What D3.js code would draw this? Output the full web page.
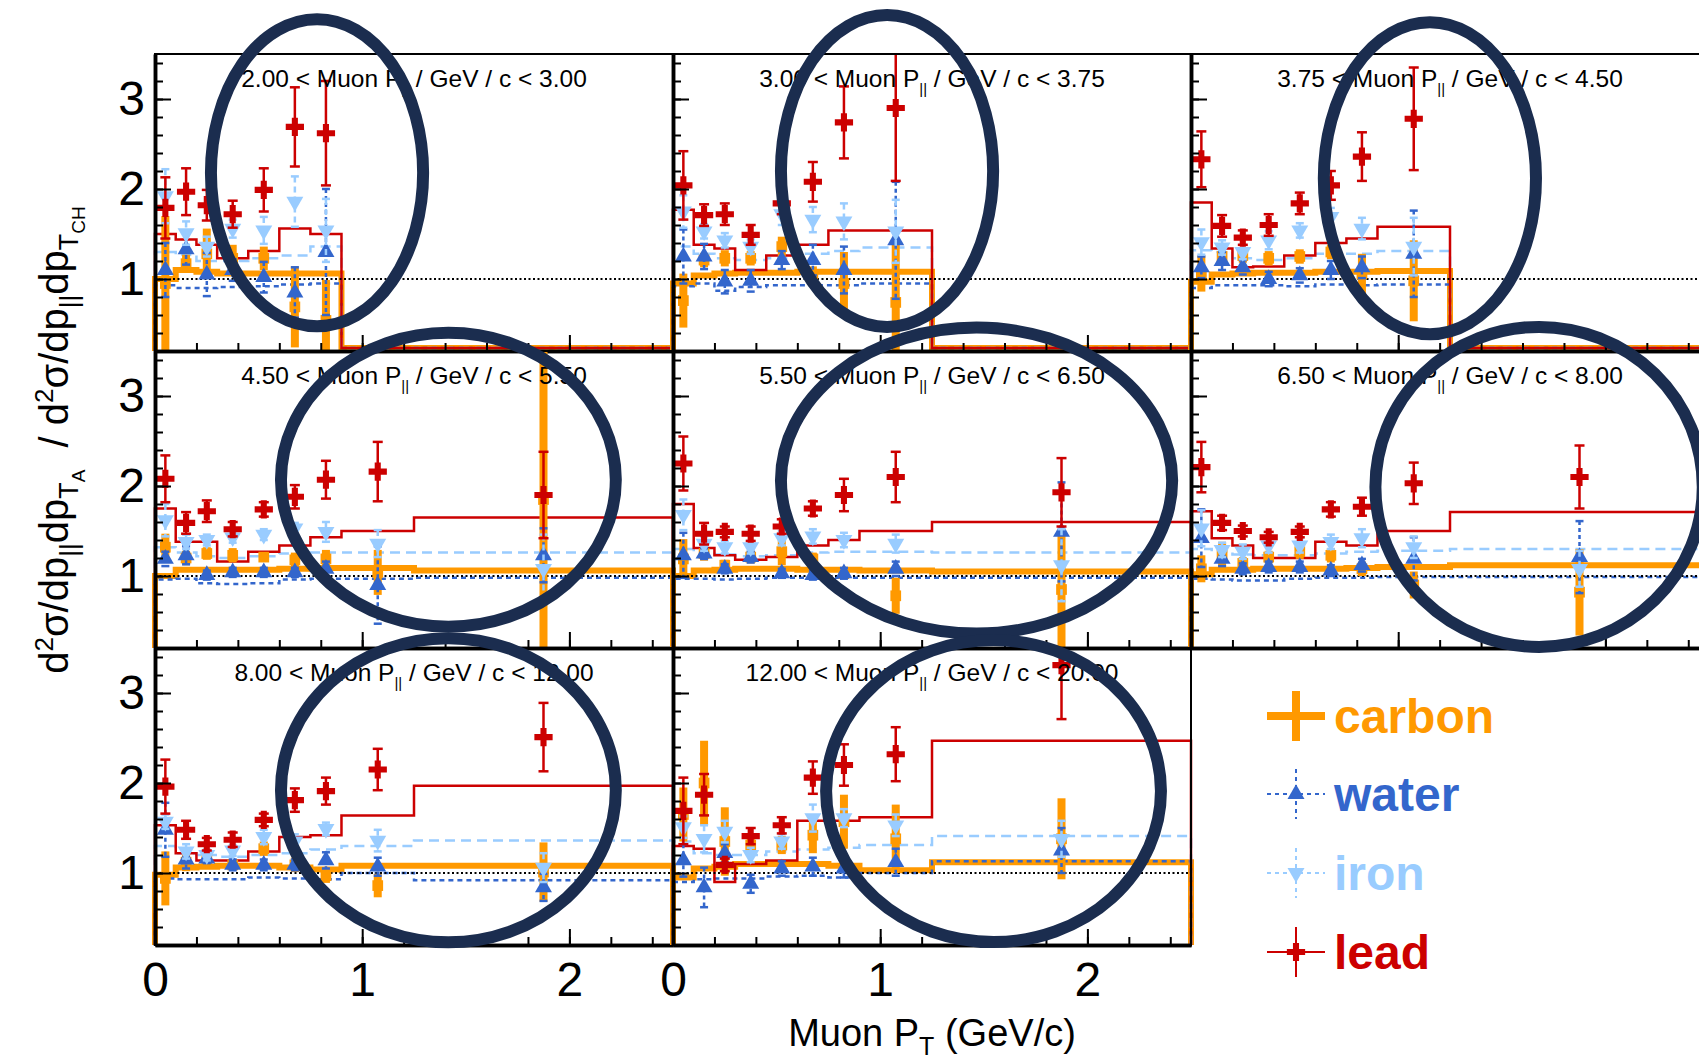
<!DOCTYPE html>
<html>
<head>
<meta charset="utf-8">
<style>
body { margin: 0; background: #fff; }
text { font-family: "Liberation Sans", Arial, Helvetica, sans-serif; }
</style>
</head>
<body>
<svg width="1699" height="1059"></svg>
<script src="https://d3js.org/d3.v7.min.js"></script>
<script>
// muon p|| slices (GeV/c) and muon pT bin edges (GeV/c)
var pBins = ["2.00", "3.00", "3.75", "4.50", "5.50", "6.50", "8.00", "12.00", "20.00"];
var ptEdges = [0, 0.1, 0.2, 0.3, 0.45, 0.6, 0.75, 0.9, 1.25, 2.5];

// data points, one row per p|| slice
var carbonVal = [
  [0.95, 1.17, 1.28, 1.23, 1.23, 0.69, 0.54],
  [0.76, 1.21, 1.23, 1.23, 1.36, 1.04, 0.95, 0.74],
  [1.06, 1.25, 1.26, 1.23, 1.25, 1.30, 1.06, 0.98],
  [1.32, 1.20, 1.25, 1.23, 1.21, 1.18, 1.19, 1.04, 1.85],
  [1.19, 1.25, 1.12, 1.21, 1.27, 1.19, 1.03, 0.78, 0.85],
  [1.08, 1.23, 1.14, 1.21, 1.27, 1.23, 1.08, 0.90, 0.82],
  [0.94, 1.12, 1.15, 1.09, 1.27, 1.09, 0.97, 0.86, 1.01],
  [1.65, 2.00, 1.35, 1.31, 1.31, 1.42, 1.57, 1.38, 1.38]
];
var carbonErr = [
  [0.75, 0.10, 0.28, 0.15, 0.13, 0.45, 0.45],
  [0.30, 0.08, 0.09, 0.08, 0.11, 0.10, 0.35, 0.70],
  [0.20, 0.06, 0.08, 0.08, 0.08, 0.08, 0.22, 0.45],
  [0.15, 0.08, 0.07, 0.08, 0.05, 0.08, 0.10, 0.25, 1.80],
  [0.22, 0.08, 0.06, 0.07, 0.15, 0.07, 0.06, 0.20, 0.65],
  [0.15, 0.15, 0.07, 0.07, 0.08, 0.08, 0.08, 0.15, 0.48],
  [0.30, 0.10, 0.07, 0.06, 0.08, 0.08, 0.08, 0.13, 0.33],
  [0.30, 0.47, 0.38, 0.10, 0.10, 0.20, 0.30, 0.38, 0.45]
];
var waterVal = [
  [1.10, 1.33, 1.05, 1.10, 1.02, 0.85, 1.30],
  [1.25, 1.25, 0.97, 0.98, 1.21, 1.21, 1.10, 1.43],
  [1.13, 1.20, 1.13, 1.00, 1.04, 1.10, 1.13, 1.28],
  [1.19, 1.23, 1.01, 1.04, 1.04, 1.04, 1.08, 0.90, 1.23],
  [1.23, 1.25, 1.08, 1.21, 1.03, 1.01, 1.03, 1.08, 1.49],
  [1.42, 1.19, 1.08, 1.10, 1.10, 1.06, 1.12, 1.19, 1.21],
  [1.48, 1.15, 1.16, 1.09, 1.09, 1.09, 1.14, 1.07, 0.84],
  [1.14, 0.84, 1.22, 0.88, 1.05, 1.07, 1.05, 1.12, 1.25]
];
var waterErr = [
  [0.30, 0.17, 0.24, 0.12, 0.17, 0.28, 0.70],
  [0.30, 0.14, 0.13, 0.12, 0.10, 0.17, 0.26, 0.65],
  [0.12, 0.10, 0.08, 0.08, 0.08, 0.10, 0.12, 0.48],
  [0.08, 0.10, 0.05, 0.05, 0.05, 0.05, 0.08, 0.43, 0.30],
  [0.25, 0.06, 0.05, 0.06, 0.05, 0.05, 0.06, 0.08, 0.55],
  [0.32, 0.08, 0.06, 0.06, 0.06, 0.06, 0.07, 0.24, 0.40],
  [0.30, 0.10, 0.05, 0.06, 0.06, 0.06, 0.09, 0.10, 0.15],
  [0.18, 0.22, 0.10, 0.10, 0.08, 0.10, 0.10, 0.15, 0.25]
];
var ironVal = [
  [1.92, 1.51, 1.36, 1.56, 1.54, 1.86, 1.54],
  [1.75, 1.53, 1.43, 1.36, 1.72, 1.66, 1.64, 1.53],
  [1.41, 1.35, 1.30, 1.43, 1.54, 1.69, 1.56, 1.36],
  [1.62, 1.38, 1.40, 1.43, 1.46, 1.53, 1.49, 1.36, 1.08],
  [1.68, 1.36, 1.32, 1.32, 1.42, 1.44, 1.40, 1.36, 1.12],
  [1.53, 1.29, 1.27, 1.34, 1.34, 1.38, 1.42, 1.32, 1.08],
  [1.57, 1.24, 1.20, 1.25, 1.40, 1.35, 1.49, 1.36, 1.06],
  [1.51, 1.38, 1.46, 1.20, 1.35, 1.61, 1.61, 1.53, 1.38]
];
var ironErr = [
  [0.30, 0.13, 0.11, 0.10, 0.15, 0.28, 0.35],
  [0.18, 0.08, 0.08, 0.08, 0.12, 0.14, 0.20, 0.35],
  [0.14, 0.08, 0.08, 0.10, 0.08, 0.10, 0.12, 0.32],
  [0.18, 0.08, 0.06, 0.06, 0.06, 0.06, 0.11, 0.15, 0.38],
  [0.17, 0.08, 0.07, 0.07, 0.08, 0.08, 0.08, 0.10, 0.40],
  [0.20, 0.08, 0.08, 0.08, 0.08, 0.08, 0.10, 0.12, 0.20],
  [0.08, 0.08, 0.06, 0.06, 0.08, 0.08, 0.07, 0.12, 0.16],
  [0.12, 0.15, 0.12, 0.08, 0.08, 0.15, 0.10, 0.12, 0.20]
];
var leadVal = [
  [1.79, 1.97, 1.82, 1.72, 1.99, 2.69, 2.62],
  [2.04, 1.71, 1.72, 1.49, 1.84, 2.08, 2.74, 2.90],
  [2.33, 1.59, 1.46, 1.60, 1.84, 2.04, 2.36, 2.78],
  [2.08, 1.59, 1.72, 1.52, 1.74, 1.88, 2.07, 2.16, 1.90],
  [2.25, 1.47, 1.49, 1.47, 1.55, 1.75, 1.90, 2.10, 1.93],
  [2.21, 1.59, 1.50, 1.43, 1.49, 1.74, 1.77, 2.03, 2.10],
  [1.96, 1.48, 1.32, 1.37, 1.59, 1.81, 1.91, 2.15, 2.51],
  [1.69, 1.87, 1.09, 1.41, 1.53, 2.06, 2.20, 2.32, 3.31]
];
var leadErr = [
  [0.34, 0.26, 0.17, 0.15, 0.24, 0.44, 0.58],
  [0.38, 0.12, 0.12, 0.11, 0.12, 0.22, 0.40, 0.81],
  [0.31, 0.12, 0.08, 0.12, 0.12, 0.16, 0.27, 0.57],
  [0.26, 0.12, 0.12, 0.08, 0.08, 0.13, 0.21, 0.33, 0.48],
  [0.30, 0.12, 0.06, 0.08, 0.08, 0.08, 0.18, 0.28, 0.38],
  [0.28, 0.08, 0.06, 0.06, 0.06, 0.08, 0.10, 0.23, 0.35],
  [0.30, 0.10, 0.07, 0.08, 0.07, 0.13, 0.15, 0.23, 0.38],
  [0.37, 0.23, 0.07, 0.09, 0.09, 0.18, 0.23, 0.30, 0.60]
];

// model predictions (step histograms)
var carbonModel = [
  [1.00, 1.10, 1.08, 1.06, 1.06, 1.06, 1.06],
  [0.95, 1.04, 1.06, 1.07, 1.07, 1.08, 1.08, 1.08],
  [0.97, 1.05, 1.06, 1.07, 1.07, 1.08, 1.08, 1.09],
  [1.00, 1.07, 1.07, 1.07, 1.07, 1.08, 1.09, 1.09, 1.06],
  [1.00, 1.06, 1.07, 1.08, 1.08, 1.07, 1.07, 1.06, 1.05],
  [1.02, 1.07, 1.07, 1.08, 1.08, 1.08, 1.09, 1.10, 1.12],
  [0.98, 1.06, 1.07, 1.08, 1.08, 1.06, 1.04, 1.08, 1.08],
  [0.95, 1.05, 1.07, 1.10, 1.10, 1.10, 1.08, 1.03, 1.12]
];
var waterModel = [
  [0.93, 0.90, 0.90, 0.91, 0.92, 0.94, 0.95],
  [0.92, 0.95, 0.87, 0.91, 0.93, 0.93, 0.93, 0.95],
  [0.90, 0.93, 0.93, 0.93, 0.92, 0.94, 0.93, 0.94],
  [0.96, 0.97, 0.92, 0.91, 0.92, 0.96, 0.97, 0.97, 0.98],
  [0.97, 0.97, 0.96, 0.97, 0.98, 0.98, 0.98, 0.98, 0.98],
  [0.97, 0.96, 0.95, 0.95, 0.97, 0.98, 0.98, 0.99, 0.99],
  [0.94, 0.93, 0.93, 0.93, 0.95, 0.94, 0.93, 1.00, 0.92],
  [0.90, 0.93, 0.94, 0.94, 0.96, 0.97, 0.95, 1.00, 1.13]
];
var ironModel = [
  [1.30, 1.27, 1.20, 1.20, 1.23, 1.26, 1.36],
  [1.36, 1.28, 1.23, 1.21, 1.23, 1.28, 1.31, 1.35],
  [1.32, 1.30, 1.23, 1.21, 1.23, 1.28, 1.28, 1.31],
  [1.32, 1.26, 1.22, 1.20, 1.22, 1.25, 1.26, 1.26, 1.26],
  [1.30, 1.27, 1.24, 1.22, 1.23, 1.26, 1.27, 1.27, 1.26],
  [1.30, 1.27, 1.24, 1.23, 1.23, 1.25, 1.27, 1.28, 1.30],
  [1.30, 1.22, 1.20, 1.18, 1.20, 1.22, 1.26, 1.30, 1.36],
  [1.35, 1.22, 1.20, 1.20, 1.24, 1.26, 1.28, 1.31, 1.41]
];
var leadModel = [
  [1.50, 1.44, 1.38, 1.23, 1.31, 1.56, 1.50],
  [1.77, 1.38, 1.34, 1.10, 1.26, 1.38, 1.54, 1.54],
  [1.85, 1.34, 1.13, 1.14, 1.26, 1.40, 1.45, 1.58],
  [1.75, 1.38, 1.38, 1.16, 1.27, 1.34, 1.43, 1.50, 1.65],
  [1.80, 1.31, 1.23, 1.18, 1.21, 1.34, 1.40, 1.50, 1.60],
  [1.72, 1.42, 1.34, 1.20, 1.20, 1.38, 1.34, 1.50, 1.71],
  [1.53, 1.22, 1.14, 1.14, 1.24, 1.40, 1.42, 1.64, 1.97],
  [1.30, 1.27, 0.90, 1.10, 1.14, 1.58, 1.58, 1.62, 2.47]
];

// hand-drawn highlight ellipses, in each panel's data units: [panel, pT, ratio, rx, ry]
var highlights = [
  [0, 0.782, 2.18, 0.512, 1.706],
  [1, 1.033, 2.20, 0.512, 1.733],
  [2, 1.153, 2.12, 0.512, 1.733],
  [3, 1.416, 2.07, 0.808, 1.633],
  [4, 1.465, 2.06, 0.944, 1.700],
  [5, 1.680, 1.99, 0.790, 1.778],
  [6, 1.416, 1.92, 0.808, 1.689],
  [7, 1.547, 1.91, 0.808, 1.678]
];

var targets = ["carbon", "water", "iron", "lead"];

var svg = d3.select("svg"),
    width = +svg.attr("width"),
    height = +svg.attr("height");

var colX = [155, 673, 1191], rowY = [54, 351, 648],
    panelW = 518, panelH = 297;

var style = {
  carbon: {color: "#ff9900", val: carbonVal, err: carbonErr, model: carbonModel,
           lw: 6, dash: null, ew: 8, edash: null, cap: 0},
  water:  {color: "#3366cc", val: waterVal, err: waterErr, model: waterModel,
           lw: 2.5, dash: "5,4", ew: 2.5, edash: "4,3", cap: 8},
  iron:   {color: "#99ccff", val: ironVal, err: ironErr, model: ironModel,
           lw: 2.5, dash: "10,6", ew: 2.5, edash: "6,4", cap: 8},
  lead:   {color: "#cc0000", val: leadVal, err: leadErr, model: leadModel,
           lw: 2.5, dash: null, ew: 2.5, edash: null, cap: 10}
};

function marker(name) {
  if (name == "carbon") return d3.symbol(d3.symbolSquare, 115)();
  if (name == "lead") return d3.symbol(d3.symbolCross, 185)();
  return d3.symbol(d3.symbolTriangle, 125)();
}

var scales = [];

for (var i = 0; i < pBins.length - 1; i++) {
  var col = i % 3, row = Math.floor(i / 3);
  var x0 = colX[col], y0 = rowY[row], bottom = y0 + panelH;
  var x = d3.scaleLinear().domain([0, 2.5]).range([x0, x0 + panelW]);
  var y = d3.scaleLinear().domain([0.2, 3.5]).range([bottom, y0]);
  scales.push({x: x, y: y});
  var g = svg.append("g");

  // model histograms
  targets.forEach(function(t) {
    var s = style[t], vals = s.model[i];
    var pts = [[x(0), bottom]];
    vals.forEach(function(v, j) {
      var yy = Math.min(y(v), bottom - 3);
      pts.push([x(ptEdges[j]), yy], [x(ptEdges[j + 1]), yy]);
    });
    if (vals.length < ptEdges.length - 1) {
      pts.push([x(ptEdges[vals.length]), bottom - 3], [x(2.5), bottom - 3]);
    } else {
      pts.push([x(2.5), bottom]);
    }
    g.append("path")
      .attr("d", d3.line()(pts))
      .attr("fill", "none")
      .attr("stroke", s.color)
      .attr("stroke-width", s.lw)
      .attr("stroke-dasharray", s.dash);
  });

  g.append("line")
    .attr("x1", x(0)).attr("x2", x(2.5))
    .attr("y1", y(1)).attr("y2", y(1))
    .attr("stroke", "#000").attr("stroke-width", 2)
    .attr("stroke-dasharray", "2,2.5");

  // data points
  targets.forEach(function(t) {
    var s = style[t];
    s.val[i].forEach(function(v, j) {
      var cx = x((ptEdges[j] + ptEdges[j + 1]) / 2);
      var hi = v + s.err[i][j], lo = v - s.err[i][j];
      var yHi = y(Math.min(hi, 3.5)), yLo = y(Math.max(lo, 0.2));
      g.append("line")
        .attr("x1", cx).attr("x2", cx).attr("y1", yHi).attr("y2", yLo)
        .attr("stroke", s.color).attr("stroke-width", s.ew)
        .attr("stroke-dasharray", s.edash);
      if (s.cap) {
        [[hi <= 3.5, yHi], [lo >= 0.2, yLo]].forEach(function(c) {
          if (c[0]) g.append("line")
            .attr("x1", cx - s.cap / 2).attr("x2", cx + s.cap / 2)
            .attr("y1", c[1]).attr("y2", c[1])
            .attr("stroke", s.color).attr("stroke-width", 2.5);
        });
      }
      g.append("path")
        .attr("d", marker(t))
        .attr("transform", "translate(" + cx + "," + y(v) + ")" + (t == "iron" ? " rotate(180)" : ""))
        .attr("fill", s.color);
    });
  });

  // frame and axes
  g.append("rect")
    .attr("x", x0).attr("y", y0).attr("width", panelW).attr("height", panelH)
    .attr("fill", "none").attr("stroke", "#000").attr("stroke-width", 2);

  var ay = g.append("g").attr("transform", "translate(" + x0 + ",0)");
  ay.append("g").call(d3.axisLeft(y).tickValues(d3.range(0.4, 3.45, 0.2)).tickSize(-8).tickSizeOuter(0).tickFormat(""));
  ay.append("g").call(d3.axisLeft(y).tickValues([1, 2, 3]).tickSize(-16).tickSizeOuter(0).tickPadding(10)
      .tickFormat(col == 0 ? d3.format("d") : ""));
  var ax = g.append("g").attr("transform", "translate(0," + bottom + ")");
  ax.append("g").call(d3.axisBottom(x).tickValues(d3.range(0.2, 2.45, 0.2)).tickSize(-8).tickSizeOuter(0).tickFormat(""));
  ax.append("g").call(d3.axisBottom(x).tickValues([0, 1, 2]).tickSize(-16).tickSizeOuter(0).tickPadding(17)
      .tickFormat(row == 2 ? d3.format("d") : ""));
  g.selectAll(".domain").attr("stroke-width", 3.5);
  g.selectAll(".tick line").attr("stroke-width", 2);
  g.selectAll(".tick text").attr("font-size", 48).attr("fill", "#000")
    .style("font-family", "'Liberation Sans', Arial, sans-serif");

  var title = g.append("text")
    .attr("x", x0 + panelW / 2).attr("y", y0 + 33)
    .attr("text-anchor", "middle").attr("font-size", 24.5).attr("fill", "#000");
  title.append("tspan").text(pBins[i] + " < Muon P");
  title.append("tspan").attr("dy", 7).attr("font-size", 15).text("||");
  title.append("tspan").attr("dy", -7).text(" / GeV / c < " + pBins[i + 1]);
}

// axis titles
var xt = svg.append("text")
  .attr("x", 932).attr("y", 1046)
  .attr("text-anchor", "middle").attr("font-size", 38);
xt.append("tspan").text("Muon P");
xt.append("tspan").attr("dy", 9).attr("font-size", 25).text("T");
xt.append("tspan").attr("dy", -9).text(" (GeV/c)");

var yt = svg.append("text")
  .attr("transform", "translate(68,440) rotate(-90)")
  .attr("text-anchor", "middle").attr("font-size", 40)
  .style("white-space", "pre");
[["d", 0, 40], ["2", -15, 26], ["\u03c3/dp", 15, 40], ["||", 10, 26], ["dp", -10, 40],
 ["T", 10, 27], ["A", 7, 19], ["  / d", -17, 40], ["2", -15, 26], ["\u03c3/dp", 15, 40],
 ["||", 10, 26], ["dp", -10, 40], ["T", 10, 27], ["CH", 7, 19]].forEach(function(p) {
  yt.append("tspan").attr("dy", p[1]).attr("font-size", p[2]).text(p[0]);
});

// legend
var legY = [716, 794, 873, 952];
targets.forEach(function(t, k) {
  var s = style[t], cy = legY[k], cx = 1296;
  var lg = svg.append("g");
  var thick = t == "carbon";
  lg.append("line").attr("x1", cx - 29).attr("x2", cx + 29).attr("y1", cy).attr("y2", cy)
    .attr("stroke", s.color).attr("stroke-width", thick ? 8 : 2)
    .attr("stroke-dasharray", (t == "water" || t == "iron") ? "4,4" : null);
  lg.append("line").attr("x1", cx).attr("x2", cx).attr("y1", cy - 25).attr("y2", cy + 25)
    .attr("stroke", s.color).attr("stroke-width", thick ? 8 : 2)
    .attr("stroke-dasharray", (t == "water" || t == "iron") ? "4,4" : null);
  if (!thick) lg.append("path").attr("d", marker(t))
    .attr("transform", "translate(" + cx + "," + cy + ")" + (t == "iron" ? " rotate(180)" : ""))
    .attr("fill", s.color);
  lg.append("text").attr("x", 1334).attr("y", cy + 17)
    .attr("font-size", 48).attr("font-weight", "bold").attr("fill", s.color).text(t);
});

// highlight ellipses drawn on top
highlights.forEach(function(h) {
  var sc = scales[h[0]];
  svg.append("ellipse")
    .attr("cx", sc.x(h[1])).attr("cy", sc.y(h[2]))
    .attr("rx", sc.x(h[3]) - sc.x(0)).attr("ry", sc.y(0) - sc.y(h[4]))
    .attr("fill", "none").attr("stroke", "#1b2d4f").attr("stroke-width", 12);
});
</script>
</body>
</html>
